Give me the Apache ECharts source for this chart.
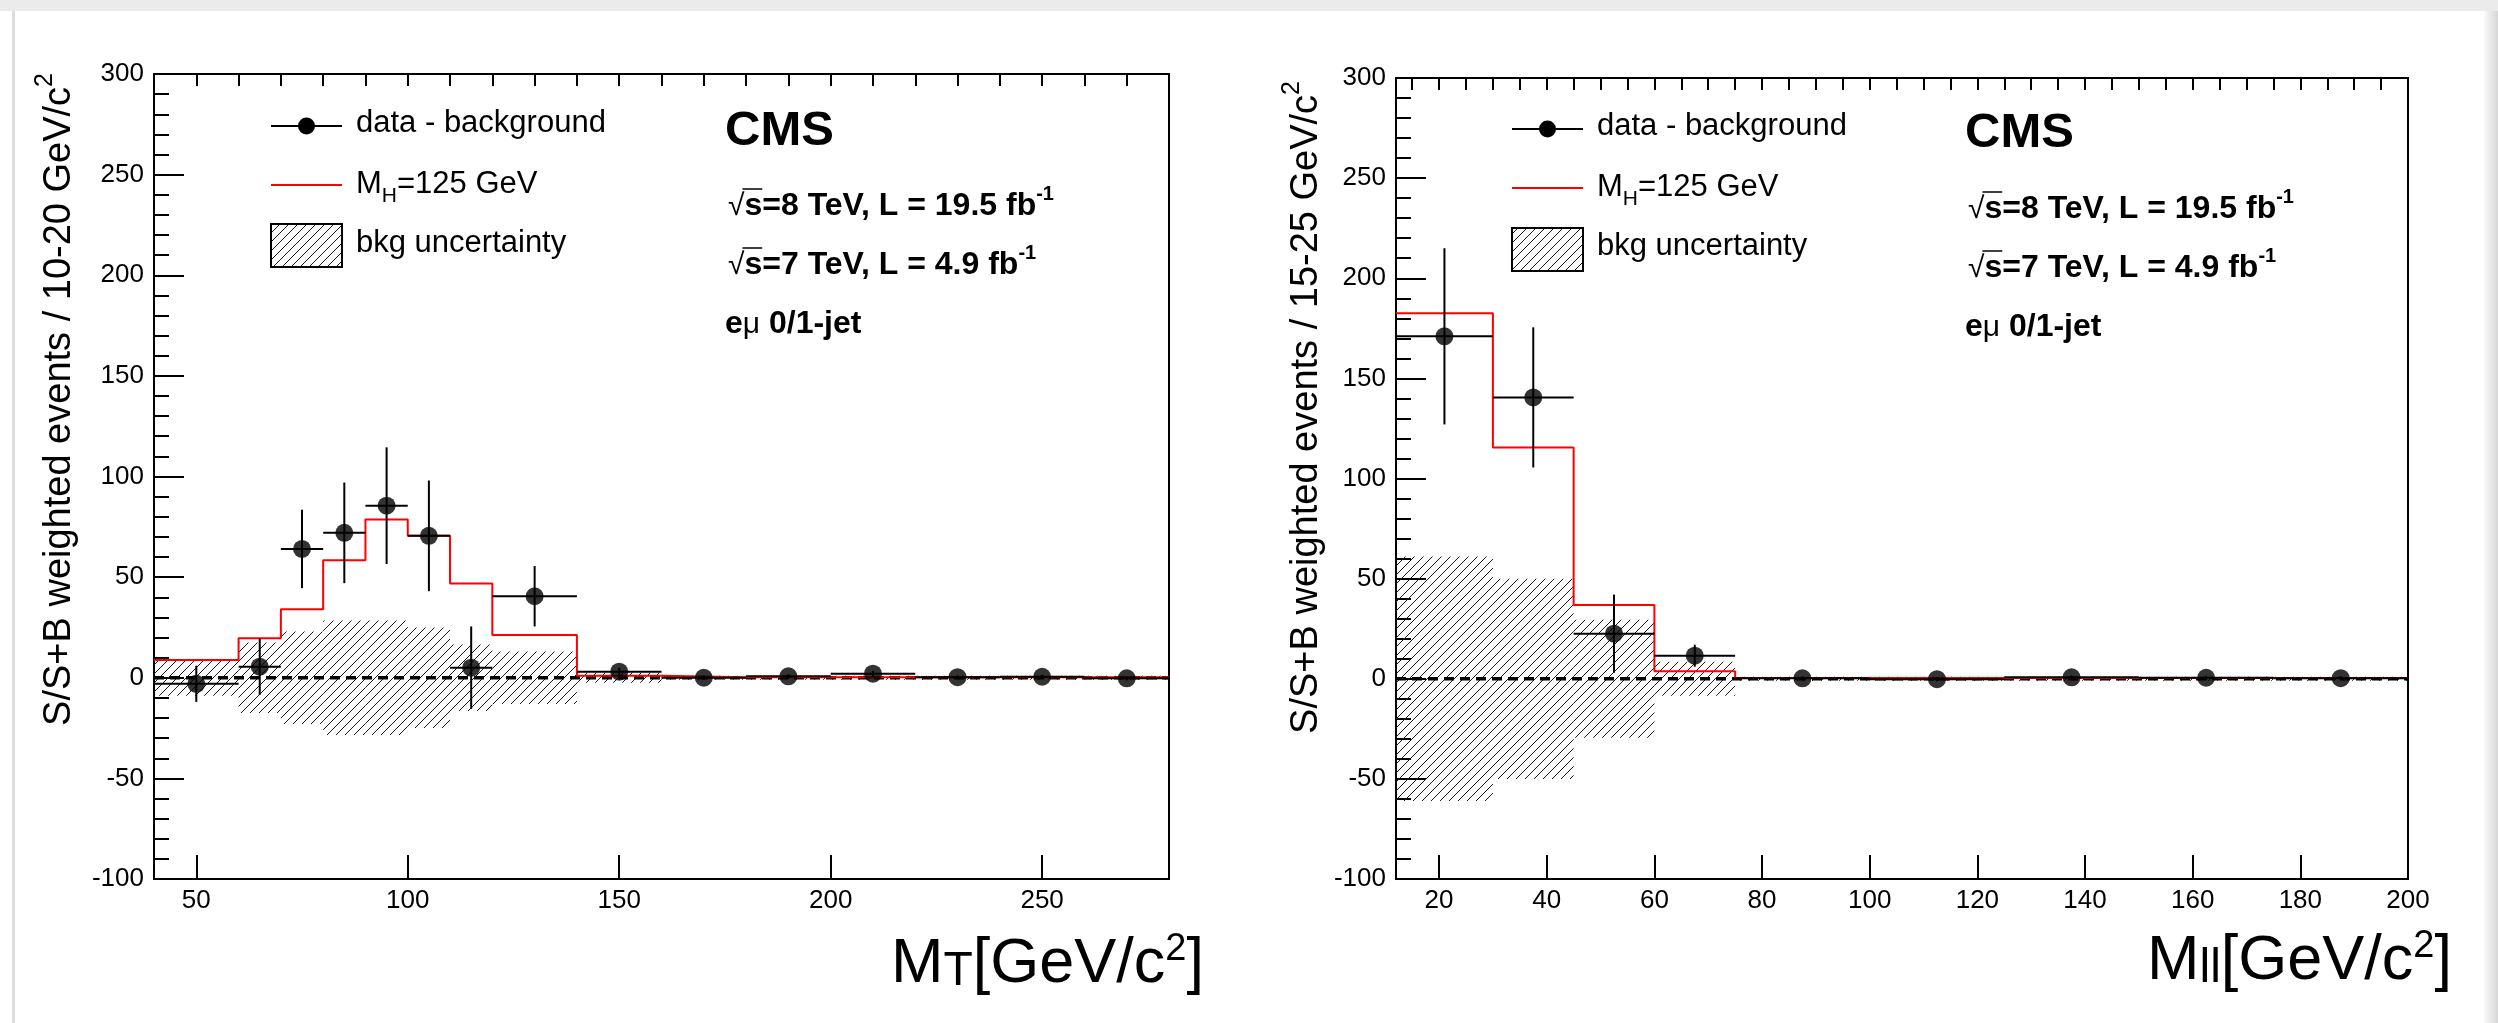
<!DOCTYPE html>
<html>
<head>
<meta charset="utf-8">
<title>S/(S+B) weighted events, e-mu 0/1-jet</title>
<script src="https://cdn.jsdelivr.net/npm/echarts@6/dist/echarts.min.js"></script>
<style>
  html, body { margin: 0; padding: 0; background: #fff; }
  #chart { width: 2498px; height: 1023px; }
</style>
</head>
<body>
<div id="chart"></div>
<script>
// ---- Transverse mass panel: bin edges and contents ----
const mtEdges    = [40, 60, 70, 80, 90, 100, 110, 120, 140, 160, 180, 200, 220, 240, 260, 280];
const mtData     = [-3, 5.5, 64, 72, 85.5, 70.5, 5, 40.5, 3, 0, 0.7, 2, 0.3, 0.5, -0.3];
const mtDataErr  = [9, 14, 19.5, 25, 29, 27.5, 20.5, 15, 2, 1, 1, 1.5, 1, 1, 1];
const mtSignal   = [8.8, 19.6, 34, 58.4, 78.6, 70.5, 46.8, 21.2, 1.0, 0.3, 0.3, 0.3, 0.3, 0.3, 0.3];
const mtBkgErr   = [9, 17.5, 23, 28.5, 28.5, 25, 16.5, 13, 2.5, 1, 1, 1, 1, 1, 1];
const mtMajorTicks = [50, 100, 150, 200, 250];
const mtMinorTicks = [50, 60, 70, 80, 90, 100, 110, 120, 130, 140, 150, 160, 170, 180, 190, 200, 210, 220, 230, 240, 250, 260, 270];

// ---- Dilepton mass panel: bin edges and contents ----
const mllEdges   = [12, 30, 45, 60, 75, 100, 125, 150, 175, 200];
const mllData    = [171, 140.5, 22.5, 11.5, 0.2, -0.2, 0.7, 0.5, 0.3];
const mllDataErr = [44, 35, 19.5, 5.5, 1, 1, 1, 1, 1];
const mllSignal  = [182.5, 115.5, 36.8, 3.8, 0.4, 0.4, 0.4, 0.4, 0.4];
const mllBkgErr  = [61, 50, 29.5, 8.5, 1, 1, 1, 1, 1];
const mllMajorTicks = [20, 40, 60, 80, 100, 120, 140, 160, 180, 200];
const mllMinorTicks = [15, 20, 25, 30, 35, 40, 45, 50, 55, 60, 65, 70, 75, 80, 85, 90, 95, 100, 105, 110, 115, 120, 125, 130, 135, 140, 145, 150, 155, 160, 165, 170, 175, 180, 185, 190, 195];

// Shared y range
const yMin = -100, yMax = 300, yStep = 50;

// ---- text helpers ----
const FAM = '"Liberation Sans", Arial, Helvetica, sans-serif';
const ctx2d = document.createElement('canvas').getContext('2d');
function fontStr(size, weight) { return (weight || 'normal') + ' ' + size + 'px ' + FAM; }
function textWidth(t, size, weight) {
  ctx2d.font = fontStr(size, weight);
  ctx2d.textBaseline = 'alphabetic';
  return ctx2d.measureText(t).width;
}
// distance from the 'middle' baseline down to the alphabetic baseline
function midToBase(size, weight) {
  ctx2d.font = fontStr(size, weight);
  ctx2d.textBaseline = 'alphabetic';
  const a = ctx2d.measureText('M').fontBoundingBoxAscent;
  ctx2d.textBaseline = 'middle';
  const m = ctx2d.measureText('M').fontBoundingBoxAscent;
  ctx2d.textBaseline = 'alphabetic';
  if (typeof a !== 'number' || typeof m !== 'number') return size * 0.32;
  return a - m;
}
// lay out pieces of text along one alphabetic baseline
function runParts(parts, x0, y0, anchor) {
  const widths = parts.map(p => textWidth(p.t, p.s, p.w));
  const total = widths.reduce((a, b) => a + b, 0);
  let x = anchor === 'right' ? x0 - total : x0;
  const els = parts.map((p, i) => {
    const el = {
      type: 'text', silent: true, x: x, y: y0 + (p.dy || 0) - midToBase(p.s, p.w),
      style: {
        text: p.t, font: fontStr(p.s, p.w), fill: '#000',
        align: 'left', verticalAlign: 'middle', textAlign: 'left', textVerticalAlign: 'middle'
      }
    };
    x += widths[i];
    return el;
  });
  return { els: els, width: total, start: anchor === 'right' ? x0 - total : x0 };
}

// ---- diagonal hatch used for the background uncertainty ----
function makeHatch() {
  const s = 9, c = document.createElement('canvas');
  c.width = s; c.height = s;
  const g = c.getContext('2d');
  g.strokeStyle = '#1a1a1a';
  g.lineWidth = 1;
  g.beginPath();
  g.moveTo(-1, s + 1); g.lineTo(s + 1, -1);
  g.moveTo(-1, 1); g.lineTo(1, -1);
  g.moveTo(s - 1, s + 1); g.lineTo(s + 1, s - 1);
  g.stroke();
  return c;
}
const hatch = { image: makeHatch(), repeat: 'repeat' };

// ---- series builders ----
function bandSeries(edges, errs, xi, yi) {
  return {
    type: 'custom', xAxisIndex: xi, yAxisIndex: yi, z: 1, silent: true,
    data: errs.map((e, i) => [edges[i], edges[i + 1], e]),
    encode: { x: [0, 1], y: 2 },
    renderItem(params, api) {
      const p0 = api.coord([api.value(0), api.value(2)]);
      const p1 = api.coord([api.value(1), -api.value(2)]);
      return {
        type: 'rect',
        shape: { x: p0[0], y: p0[1], width: p1[0] - p0[0], height: p1[1] - p0[1] },
        style: { fill: hatch }
      };
    }
  };
}
function zeroSeries(edges, xi, yi) {
  return {
    type: 'line', xAxisIndex: xi, yAxisIndex: yi, z: 2, silent: true, symbol: 'none',
    data: [[edges[0], 0], [edges[edges.length - 1], 0]],
    lineStyle: { color: '#000', width: 3.5, type: [10, 6] }
  };
}
function stepSeries(edges, vals, xi, yi) {
  const pts = vals.map((v, i) => [edges[i], v]);
  pts.push([edges[edges.length - 1], vals[vals.length - 1]]);
  return {
    type: 'line', xAxisIndex: xi, yAxisIndex: yi, z: 3, silent: true, symbol: 'none',
    step: 'end', data: pts,
    lineStyle: { color: '#ff0000', width: 2 }
  };
}
function errSeries(edges, vals, errs, xi, yi) {
  return {
    type: 'custom', xAxisIndex: xi, yAxisIndex: yi, z: 4, silent: true,
    data: vals.map((v, i) => [edges[i], edges[i + 1], v, errs[i]]),
    encode: { x: [0, 1], y: 2 },
    renderItem(params, api) {
      const lo = api.value(0), hi = api.value(1), v = api.value(2), e = api.value(3);
      const mid = (lo + hi) / 2;
      const a = api.coord([lo, v]), b = api.coord([hi, v]);
      const t = api.coord([mid, v + e]), u = api.coord([mid, v - e]);
      const st = { stroke: '#000', lineWidth: 2 };
      return {
        type: 'group', children: [
          { type: 'line', shape: { x1: a[0], y1: a[1], x2: b[0], y2: b[1] }, style: st },
          { type: 'line', shape: { x1: t[0], y1: t[1], x2: u[0], y2: u[1] }, style: st }
        ]
      };
    }
  };
}
function pointSeries(edges, vals, xi, yi) {
  return {
    type: 'scatter', xAxisIndex: xi, yAxisIndex: yi, z: 5, silent: true,
    symbol: 'circle', symbolSize: 18,
    itemStyle: { color: '#000' },
    data: vals.map((v, i) => [(edges[i] + edges[i + 1]) / 2, v])
  };
}

// ---- axes ----
const tickLabel = { fontFamily: FAM, fontSize: 26, color: '#000' };
const blackLine = { color: '#000', width: 2 };
function yAxisCfg(gi) {
  return {
    type: 'value', gridIndex: gi, min: yMin, max: yMax, interval: yStep,
    axisLine: { show: true, lineStyle: blackLine },
    axisTick: { show: true, inside: true, length: 30, lineStyle: blackLine },
    minorTick: { show: true, splitNumber: 5, length: 15, lineStyle: blackLine },
    splitLine: { show: false }, minorSplitLine: { show: false },
    axisLabel: Object.assign({ margin: 10 }, tickLabel)
  };
}
function xMajorCfg(gi, edges, ticks) {
  return {
    type: 'value', gridIndex: gi, min: edges[0], max: edges[edges.length - 1],
    axisLine: { show: true, onZero: false, lineStyle: blackLine },
    axisTick: { show: true, inside: true, length: 24, customValues: ticks, lineStyle: blackLine },
    splitLine: { show: false },
    axisLabel: Object.assign({ margin: 9, customValues: ticks, showMinLabel: true, showMaxLabel: true }, tickLabel)
  };
}
function xMinorCfg(gi, edges, ticks) {
  return {
    type: 'value', gridIndex: gi, min: edges[0], max: edges[edges.length - 1],
    axisLine: { show: false, onZero: false },
    axisTick: { show: true, inside: true, length: 12, customValues: ticks, lineStyle: blackLine },
    splitLine: { show: false },
    axisLabel: { show: false }
  };
}

// ---- annotations: legends, titles, experiment labels ----
const graphics = [];

// page edges
graphics.push({ type: 'rect', silent: true, z: -10, shape: { x: 0, y: 0, width: 2498, height: 11 }, style: { fill: '#ebebeb' } });
graphics.push({ type: 'rect', silent: true, z: -10, shape: { x: 12, y: 11, width: 3, height: 1012 }, style: { fill: '#dcdcdc' } });
graphics.push({
  type: 'rect', silent: true, z: -10, shape: { x: 2484, y: 11, width: 14, height: 1012 },
  style: { fill: new echarts.graphic.LinearGradient(0, 0, 1, 0, [{ offset: 0, color: '#fafafa' }, { offset: 1, color: '#d6d6d6' }]) }
});

function legendBlock(x, y1, y2, y3, tx, b1, b2, b3) {
  graphics.push({ type: 'line', silent: true, shape: { x1: x, y1: y1, x2: x + 71, y2: y1 }, style: { stroke: '#000', lineWidth: 2 } });
  graphics.push({ type: 'circle', silent: true, shape: { cx: x + 35.5, cy: y1, r: 8.5 }, style: { fill: '#000' } });
  graphics.push(...runParts([{ t: 'data - background', s: 31 }], tx, b1, 'left').els);
  graphics.push({ type: 'line', silent: true, shape: { x1: x, y1: y2, x2: x + 71, y2: y2 }, style: { stroke: '#ff0000', lineWidth: 2 } });
  graphics.push(...runParts([{ t: 'M', s: 31 }, { t: 'H', s: 21, dy: 9 }, { t: '=125 GeV', s: 31 }], tx, b2, 'left').els);
  graphics.push({ type: 'rect', silent: true, shape: { x: x, y: y3, width: 71, height: 43 }, style: { fill: hatch, stroke: '#000', lineWidth: 2 } });
  graphics.push(...runParts([{ t: 'bkg uncertainty', s: 31 }], tx, b3, 'left').els);
}
legendBlock(271, 126, 185, 224, 356, 132, 193, 252);
legendBlock(1512, 129, 188, 228, 1597, 135, 196, 255);

function cmsBlock(x, bCms, b1, b2, b3) {
  graphics.push(...runParts([{ t: 'CMS', s: 49, w: 'bold' }], x, bCms, 'left').els);
  const lines = [
    { b: b1, main: '=8 TeV, L = 19.5 fb' },
    { b: b2, main: '=7 TeV, L = 4.9 fb' }
  ];
  lines.forEach(l => {
    const r = runParts([
      { t: '\u221A', s: 30 }, { t: 's', s: 32, w: 'bold' },
      { t: l.main, s: 32, w: 'bold' }, { t: '-1', s: 20, w: 'bold', dy: -15 }
    ], x + 3, l.b, 'left');
    graphics.push(...r.els);
    const wr = textWidth('\u221A', 30), ws = textWidth('s', 32, 'bold');
    graphics.push({ type: 'line', silent: true, shape: { x1: x + 3 + wr - 2, y1: l.b - 26, x2: x + 3 + wr + ws, y2: l.b - 26 }, style: { stroke: '#000', lineWidth: 1.5 } });
  });
  graphics.push(...runParts([
    { t: 'e', s: 32, w: 'bold' }, { t: '\u03BC', s: 30 }, { t: ' 0/1-jet', s: 32, w: 'bold' }
  ], x, b3, 'left').els);
}
cmsBlock(725, 145, 215, 274, 333);
cmsBlock(1965, 147, 218, 277, 336);

function xTitle(sub, right, base) {
  graphics.push(...runParts([
    { t: 'M', s: 63 }, { t: sub, s: 48, dy: 3 }, { t: '[GeV/c', s: 63 },
    { t: '2', s: 38, dy: -22 }, { t: ']', s: 63 }
  ], right, base, 'right').els);
}
xTitle('T', 1204, 982);
xTitle('ll', 2452, 979);

function yTitle(text, baseX, topEnd) {
  const r = runParts([{ t: text, s: 38 }, { t: '2', s: 25, dy: -18 }], 0, 0, 'left');
  graphics.push({ type: 'group', silent: true, x: baseX, y: topEnd + r.width, rotation: Math.PI / 2, children: r.els });
}
yTitle('S/S+B weighted events / 10-20 GeV/c', 70, 73);
yTitle('S/S+B weighted events / 15-25 GeV/c', 1317, 81);

// ---- chart ----
const chart = echarts.init(document.getElementById('chart'), null, { renderer: 'canvas' });
chart.setOption({
  animation: false,
  backgroundColor: '#ffffff',
  grid: [
    { left: 154, top: 74, width: 1015, height: 805, show: true, borderColor: '#000', borderWidth: 2, backgroundColor: 'transparent' },
    { left: 1396, top: 78, width: 1012, height: 801, show: true, borderColor: '#000', borderWidth: 2, backgroundColor: 'transparent' }
  ],
  xAxis: [
    xMajorCfg(0, mtEdges, mtMajorTicks),
    xMinorCfg(0, mtEdges, mtMinorTicks),
    xMajorCfg(1, mllEdges, mllMajorTicks),
    xMinorCfg(1, mllEdges, mllMinorTicks)
  ],
  yAxis: [yAxisCfg(0), yAxisCfg(1)],
  series: [
    bandSeries(mtEdges, mtBkgErr, 0, 0),
    zeroSeries(mtEdges, 0, 0),
    stepSeries(mtEdges, mtSignal, 0, 0),
    errSeries(mtEdges, mtData, mtDataErr, 0, 0),
    pointSeries(mtEdges, mtData, 0, 0),

    bandSeries(mllEdges, mllBkgErr, 2, 1),
    zeroSeries(mllEdges, 2, 1),
    stepSeries(mllEdges, mllSignal, 2, 1),
    errSeries(mllEdges, mllData, mllDataErr, 2, 1),
    pointSeries(mllEdges, mllData, 2, 1)
  ],
  graphic: graphics
});
</script>
</body>
</html>
